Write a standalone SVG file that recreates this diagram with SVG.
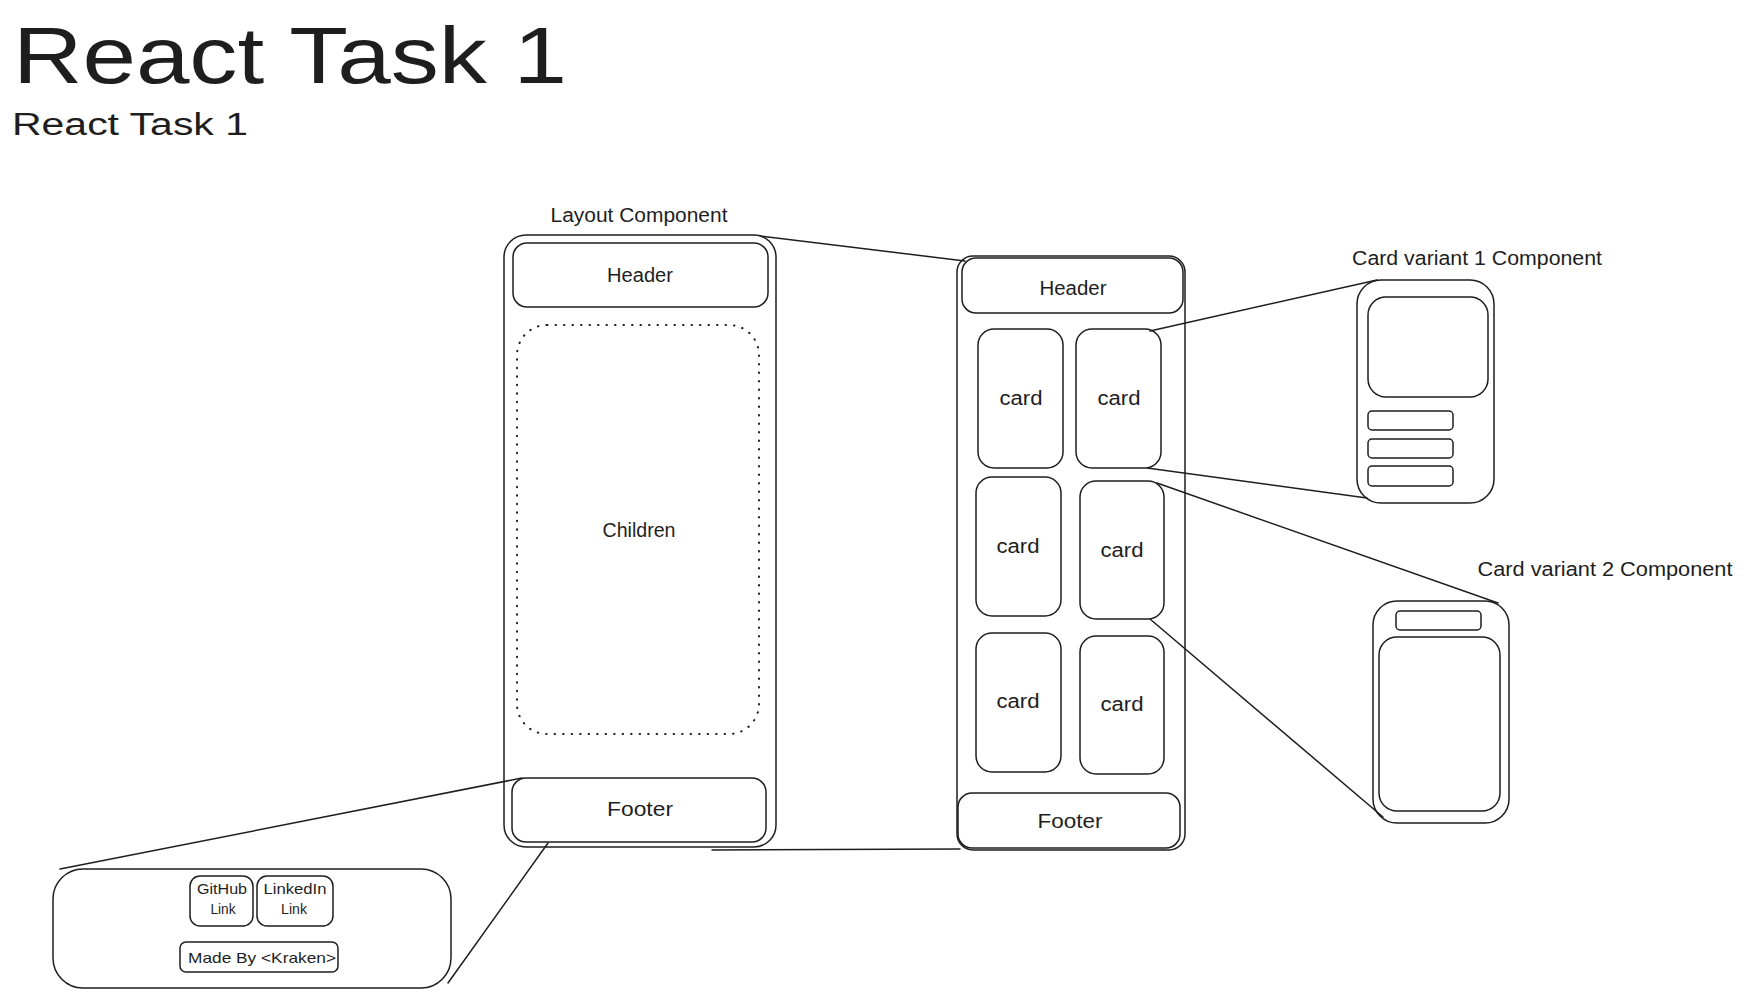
<svg xmlns="http://www.w3.org/2000/svg" width="1744" height="997" viewBox="0 0 1744 997">
<style>
  .box{fill:none;stroke:#1e1e1e;stroke-width:1.5}
  .dots{fill:none;stroke:#1e1e1e;stroke-width:2;stroke-dasharray:0.5 8;stroke-linecap:round}
  .con{fill:none;stroke:#1e1e1e;stroke-width:1.5;stroke-linecap:round}
  text{font-family:"Liberation Sans",Arial,sans-serif;fill:#1e1e1e}
  .t{font-size:20px;text-anchor:middle}
  .s{font-size:15px;text-anchor:middle}
</style>
<rect width="1744" height="997" fill="#ffffff"/>

<g id="title">
  <text x="13" y="83" font-size="80" textLength="554" lengthAdjust="spacingAndGlyphs">React Task 1</text>
  <text x="12" y="135" font-size="31" textLength="236" lengthAdjust="spacingAndGlyphs">React Task 1</text>
</g>

<g id="connectors">
  <line class="con" x1="760" y1="236" x2="965" y2="261"/>
  <line class="con" x1="712" y1="850" x2="960" y2="849"/>
  <line class="con" x1="1150" y1="331" x2="1377" y2="280"/>
  <line class="con" x1="1147" y1="468" x2="1367" y2="498"/>
  <line class="con" x1="1157" y1="483" x2="1498" y2="603"/>
  <line class="con" x1="1150" y1="619" x2="1383" y2="817"/>
  <line class="con" x1="60" y1="869" x2="522" y2="778"/>
  <line class="con" x1="448" y1="983" x2="548" y2="843"/>
</g>

<g id="layout-component">
  <text class="t" x="639" y="222" textLength="177" lengthAdjust="spacingAndGlyphs">Layout Component</text>
  <rect class="box" x="504" y="235" width="272" height="612" rx="22"/>
  <g id="layout-header">
    <rect class="box" x="513" y="243" width="255" height="64" rx="14"/>
    <text class="t" x="640" y="282" textLength="66" lengthAdjust="spacingAndGlyphs">Header</text>
  </g>
  <g id="layout-children">
    <rect class="dots" x="517" y="325" width="242" height="409" rx="30"/>
    <text class="t" x="639" y="537" textLength="73" lengthAdjust="spacingAndGlyphs">Children</text>
  </g>
  <g id="layout-footer">
    <rect class="box" x="512" y="778" width="254" height="64" rx="14"/>
    <text class="t" x="640" y="816" textLength="66" lengthAdjust="spacingAndGlyphs">Footer</text>
  </g>
</g>

<g id="page">
  <rect class="box" x="957" y="256" width="228" height="594" rx="16"/>
  <g id="page-header">
    <rect class="box" x="962" y="258" width="221" height="55" rx="14"/>
    <text class="t" x="1073" y="295" textLength="67" lengthAdjust="spacingAndGlyphs">Header</text>
  </g>
  <g id="card-1">
    <rect class="box" x="978" y="329" width="85" height="139" rx="16"/>
    <text class="t" x="1021" y="405" textLength="43" lengthAdjust="spacingAndGlyphs">card</text>
  </g>
  <g id="card-2">
    <rect class="box" x="1076" y="329" width="85" height="139" rx="16"/>
    <text class="t" x="1119" y="405" textLength="43" lengthAdjust="spacingAndGlyphs">card</text>
  </g>
  <g id="card-3">
    <rect class="box" x="976" y="477" width="85" height="139" rx="16"/>
    <text class="t" x="1018" y="553" textLength="43" lengthAdjust="spacingAndGlyphs">card</text>
  </g>
  <g id="card-4">
    <rect class="box" x="1080" y="481" width="84" height="138" rx="16"/>
    <text class="t" x="1122" y="557" textLength="43" lengthAdjust="spacingAndGlyphs">card</text>
  </g>
  <g id="card-5">
    <rect class="box" x="976" y="633" width="85" height="139" rx="16"/>
    <text class="t" x="1018" y="708" textLength="43" lengthAdjust="spacingAndGlyphs">card</text>
  </g>
  <g id="card-6">
    <rect class="box" x="1080" y="636" width="84" height="138" rx="16"/>
    <text class="t" x="1122" y="711" textLength="43" lengthAdjust="spacingAndGlyphs">card</text>
  </g>
  <g id="page-footer">
    <rect class="box" x="958" y="793" width="222" height="55" rx="14"/>
    <text class="t" x="1070" y="828" textLength="65" lengthAdjust="spacingAndGlyphs">Footer</text>
  </g>
</g>

<g id="card-variant-1">
  <text class="t" x="1477" y="265" textLength="250" lengthAdjust="spacingAndGlyphs">Card variant 1 Component</text>
  <rect class="box" x="1357" y="280" width="137" height="223" rx="24"/>
  <rect class="box" x="1368" y="297" width="120" height="100" rx="18"/>
  <rect class="box" x="1368" y="411" width="85" height="19" rx="4"/>
  <rect class="box" x="1368" y="439" width="85" height="19" rx="4"/>
  <rect class="box" x="1368" y="466" width="85" height="20" rx="4"/>
</g>

<g id="card-variant-2">
  <text class="t" x="1605" y="576" textLength="255" lengthAdjust="spacingAndGlyphs">Card variant 2 Component</text>
  <rect class="box" x="1373" y="601" width="136" height="222" rx="24"/>
  <rect class="box" x="1396" y="611" width="85" height="19" rx="4"/>
  <rect class="box" x="1379" y="637" width="121" height="174" rx="18"/>
</g>

<g id="footer-detail">
  <rect class="box" x="53" y="869" width="398" height="119" rx="30"/>
  <g id="github-link">
    <rect class="box" x="190" y="876" width="63" height="50" rx="10"/>
    <text class="s" x="222" y="894" textLength="50" lengthAdjust="spacingAndGlyphs">GitHub</text>
    <text class="s" x="223" y="914" textLength="25" lengthAdjust="spacingAndGlyphs">Link</text>
  </g>
  <g id="linkedin-link">
    <rect class="box" x="257" y="876" width="76" height="50" rx="10"/>
    <text class="s" x="295" y="894" textLength="63" lengthAdjust="spacingAndGlyphs">LinkedIn</text>
    <text class="s" x="294" y="914" textLength="26" lengthAdjust="spacingAndGlyphs">Link</text>
  </g>
  <g id="made-by">
    <rect class="box" x="180" y="942" width="158" height="30" rx="6"/>
    <text class="s" x="262" y="963" font-size="16" textLength="148" lengthAdjust="spacingAndGlyphs">Made By &lt;Kraken&gt;</text>
  </g>
</g>
</svg>
